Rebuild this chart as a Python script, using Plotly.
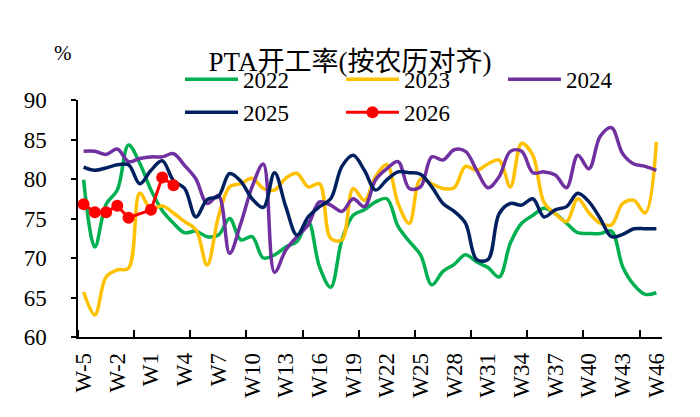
import plotly.graph_objects as go

weeks = ["W-5", "W-4", "W-3", "W-2", "W-1", "W0",
         "W1", "W2", "W3", "W4", "W5", "W6", "W7", "W8", "W9", "W10",
         "W11", "W12", "W13", "W14", "W15", "W16", "W17", "W18", "W19", "W20",
         "W21", "W22", "W23", "W24", "W25", "W26", "W27", "W28", "W29", "W30",
         "W31", "W32", "W33", "W34", "W35", "W36", "W37", "W38", "W39", "W40",
         "W41", "W42", "W43", "W44", "W45", "W46"]

tick_labels = ["W-5", "W-2", "W1", "W4", "W7", "W10", "W13", "W16", "W19",
               "W22", "W25", "W28", "W31", "W34", "W37", "W40", "W43", "W46"]

y2022 = [79.9, 71.4, 76.8, 78.6, 84.3, 82.0, 78.6, 76.0, 74.4, 73.2,
         73.4, 72.7, 72.9, 75.0, 72.3, 72.7, 70.0, 70.4, 71.4, 72.1,
         74.6, 68.9, 66.3, 72.3, 75.4, 76.1, 77.1, 77.5, 74.0, 72.1,
         70.4, 66.6, 68.3, 69.2, 70.4, 69.5, 68.8, 67.6, 71.9, 74.4,
         75.4, 76.3, 75.6, 74.4, 73.2, 73.1, 73.1, 73.4, 68.9, 66.6,
         65.4, 65.6]

y2023 = [65.7, 62.8, 67.6, 68.5, 68.7, 78.2, 76.2, 76.6, 75.7, 74.6,
         73.6, 69.1, 75.2, 79.0, 79.4, 80.1, 78.8, 78.6, 80.1, 80.7,
         79.0, 79.4, 72.5, 72.3, 78.8, 77.3, 80.3, 81.8, 76.9, 74.4,
         80.0, 79.4, 78.8, 78.9, 81.6, 81.1, 81.9, 82.4, 79.0, 84.5,
         83.0, 77.0, 75.6, 74.6, 77.5, 75.7, 74.4, 74.2, 76.9, 77.3,
         75.7, 84.7]

y2024 = [83.5, 83.5, 83.1, 83.8, 82.2, 82.6, 82.8, 82.8, 83.2, 81.7,
         80.0, 76.9, 77.9, 70.6, 74.4, 79.0, 81.9, 68.2, 71.0, 72.7,
         74.2, 77.1, 76.7, 75.9, 77.5, 76.5, 79.9, 81.3, 82.2, 78.8,
         79.0, 82.8, 82.4, 83.7, 83.5, 81.1, 78.9, 80.3, 83.5, 83.5,
         80.8, 80.9, 80.5, 78.9, 83.0, 81.3, 85.4, 86.5, 83.2, 81.9,
         81.6, 81.1]

y2025 = [81.5, 81.1, 81.4, 81.8, 81.8, 79.4, 81.1, 82.3, 79.8, 78.8,
         75.2, 77.4, 77.8, 80.7, 79.7, 77.5, 76.4, 80.8, 76.5, 72.9,
         75.2, 76.5, 77.5, 81.6, 83.0, 81.1, 78.6, 79.9, 80.9, 80.8,
         80.6, 79.0, 76.9, 75.9, 74.4, 69.8, 69.8, 75.6, 76.9, 76.7,
         77.5, 75.2, 76.1, 76.5, 78.2, 77.1, 75.0, 72.7, 73.0, 73.7,
         73.7, 73.7]

y2026 = [76.8, 75.8, 75.8, 76.6, 75.1, None, 76.1, 80.2, 79.2]

# (name, values, colour, legend column)
series = [
    ("2022", y2022, "#00B050", "legend"),
    ("2023", y2023, "#FFC000", "legend2"),
    ("2024", y2024, "#7030A0", "legend3"),
    ("2025", y2025, "#002060", "legend"),
]

FONT = "Liberation Serif, Times New Roman, Noto Sans CJK SC, serif"

fig = go.Figure()
for name, ys, color, leg in series:
    fig.add_trace(go.Scatter(
        x=weeks, y=ys, name=name, mode="lines", legend=leg,
        line=dict(color=color, width=3.5, shape="spline", smoothing=1.0),
    ))

fig.add_trace(go.Scatter(
    x=weeks[:len(y2026)], y=y2026, name="2026", mode="lines+markers",
    connectgaps=True, legend="legend2",
    line=dict(color="#FF0000", width=3),
    marker=dict(color="#FF0000", size=12),
))

leg_common = dict(orientation="v", xanchor="left", yanchor="top", y=1.178,
                  bgcolor="rgba(0,0,0,0)", font=dict(family=FONT, size=23),
                  tracegroupgap=0, itemwidth=53, traceorder="normal")

fig.update_layout(
    width=700, height=417,
    margin=dict(l=78, r=38, t=100, b=80),
    paper_bgcolor="white", plot_bgcolor="white",
    font=dict(family=FONT, size=23, color="#000000"),
    title=dict(text="PTA开工率(按农历对齐)", x=0.5, xref="container", xanchor="center",
               y=1 - 62 / 417, yanchor="middle", yref="container",
               font=dict(family=FONT, size=27, color="#000000")),
    showlegend=True,
    legend=dict(x=0.1747, **leg_common),
    legend2=dict(x=0.4503, **leg_common),
    legend3=dict(x=0.7277, **leg_common),
    annotations=[dict(text="%", xref="paper", yref="paper", x=-0.045, y=1.257,
                      showarrow=False, font=dict(family=FONT, size=21))],
)

fig.update_xaxes(
    type="category", categoryorder="array", categoryarray=weeks,
    range=[-0.5, len(weeks) - 0.5],
    tickmode="array", tickvals=tick_labels, ticktext=tick_labels,
    tickangle=-90, ticks="", ticklabelstandoff=5,
    showline=True, linecolor="#000000", linewidth=1.5,
    showgrid=False, zeroline=False, automargin=False,
    minor=dict(tickmode="array", tickvals=[-0.5 + 5 * k for k in range(11)],
               ticks="inside", ticklen=7, tickwidth=1.5, tickcolor="#000000",
               showgrid=False),
    tickfont=dict(family=FONT, size=23),
)

fig.update_yaxes(
    range=[60, 90], tickmode="array", tickvals=[60, 65, 70, 75, 80, 85, 90],
    ticks="outside", ticklen=5, tickwidth=1.5, tickcolor="#000000",
    ticklabelstandoff=20, automargin=False,
    showline=True, linecolor="#000000", linewidth=1.5,
    showgrid=False, zeroline=False,
    tickfont=dict(family=FONT, size=23),
)

fig.write_html("out.html", config={"displayModeBar": False},
               post_script="document.body.style.margin='0';")
